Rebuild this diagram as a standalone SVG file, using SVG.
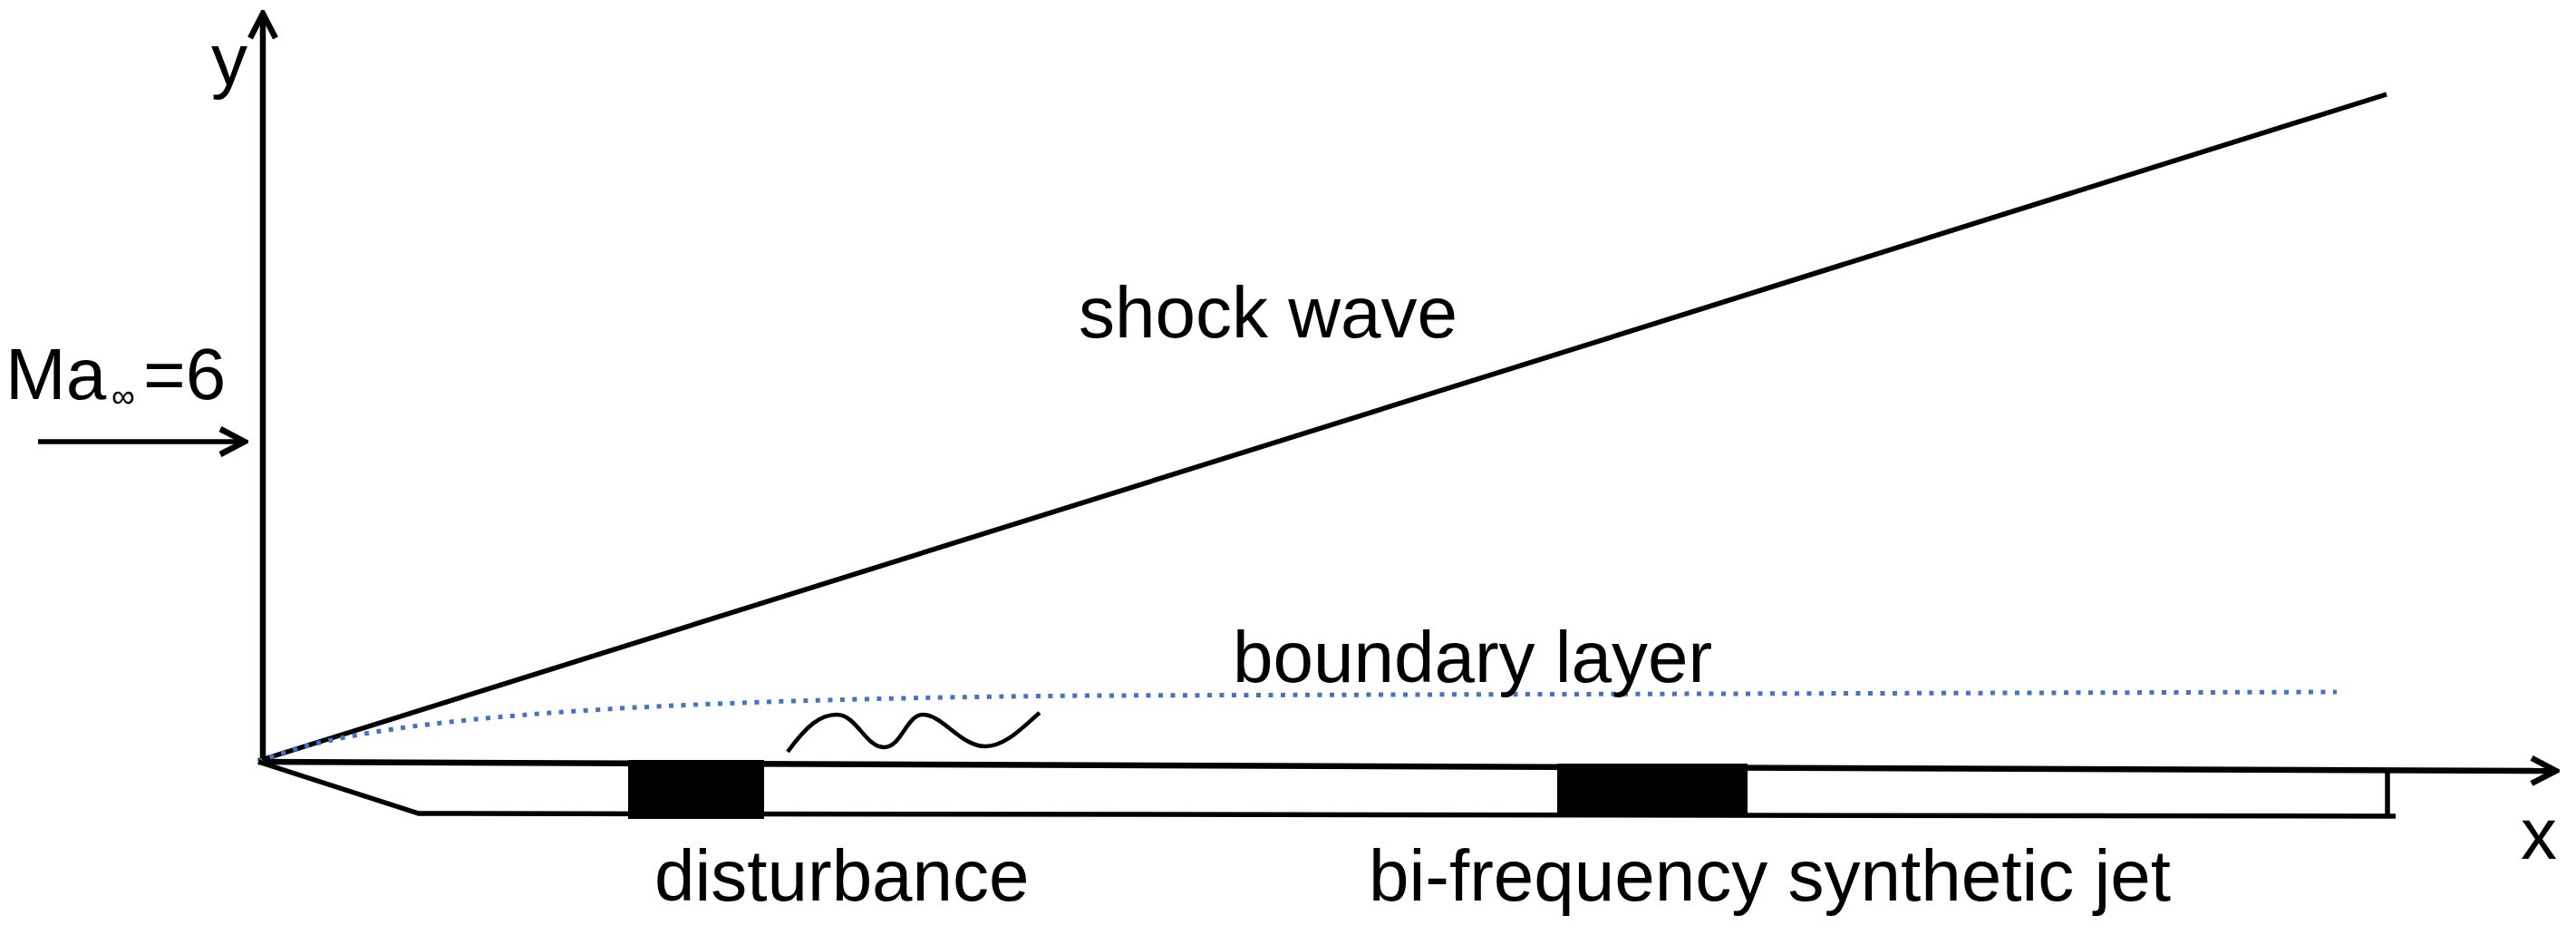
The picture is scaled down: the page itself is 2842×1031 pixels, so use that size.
<svg xmlns="http://www.w3.org/2000/svg" width="2842" height="1031" viewBox="0 0 2842 1031">
  <style>
    .lbl { font-family: "Liberation Sans", Arial, sans-serif; font-size: 80px; fill: #000; }
    .ln { stroke: #000; stroke-width: 5.5; fill: none; }
    .ax { stroke: #000; stroke-width: 6.5; fill: none; }
    .blk { fill: #000; }
  </style>
  <defs>
    <marker id="chev" viewBox="-32 -17 36 34" markerWidth="36" markerHeight="34" refX="0" refY="0" markerUnits="userSpaceOnUse" orient="auto">
      <path d="M-27,-14 L0,0 L-27,14" stroke="#000" stroke-width="6.5" fill="none" stroke-linejoin="miter"/>
    </marker>
  </defs>
  <rect x="0" y="0" width="2842" height="1031" fill="#fff"/>

  <g id="connectors">
    <line id="y-axis" class="ax" x1="290" y1="840" x2="290" y2="15" marker-end="url(#chev)"/>
    <line id="x-axis" class="ax" x1="285" y1="840" x2="2820" y2="850" marker-end="url(#chev)"/>
    <line id="flow-arrow" class="ln" x1="42" y1="487" x2="270" y2="487" marker-end="url(#chev)"/>
  </g>

  <g id="shock-wave">
    <line class="ln" x1="285" y1="839" x2="2633" y2="104"/>
    <text class="lbl" x="1190" y="372">shock wave</text>
  </g>

  <g id="boundary-layer">
    <path d="M285,840 C390,795 650,772 1200,767 L2578,763" fill="none" stroke="#4472C4" stroke-width="5" stroke-dasharray="5 8.5"/>
    <text class="lbl" x="1360" y="752">boundary layer</text>
  </g>

  <g id="plate">
    <polyline class="ln" points="285,840 462,897 2643,900"/>
    <line class="ln" x1="2634" y1="849" x2="2634" y2="900"/>
  </g>

  <g id="disturbance">
    <rect class="blk" x="693" y="838" width="150" height="65"/>
    <path d="M869,829 C890,800 905,788 923,788 C945,788 955,824 975,824 C995,824 1000,788 1018,788 C1040,788 1060,823 1087,823 C1110,823 1130,800 1147,786" fill="none" stroke="#000" stroke-width="4.5"/>
    <text class="lbl" x="722" y="993">disturbance</text>
  </g>

  <g id="synthetic-jet">
    <rect class="blk" x="1718" y="842" width="210" height="57"/>
    <text class="lbl" x="1510" y="993">bi-frequency synthetic jet</text>
  </g>

  <g id="labels">
    <text class="lbl" x="233" y="93">y</text>
    <text class="lbl" x="2781" y="947">x</text>
    <text class="lbl" x="6" y="440">Ma<tspan x="123" y="449" font-size="36">∞</tspan><tspan x="158" y="440">=6</tspan></text>
  </g>
</svg>
